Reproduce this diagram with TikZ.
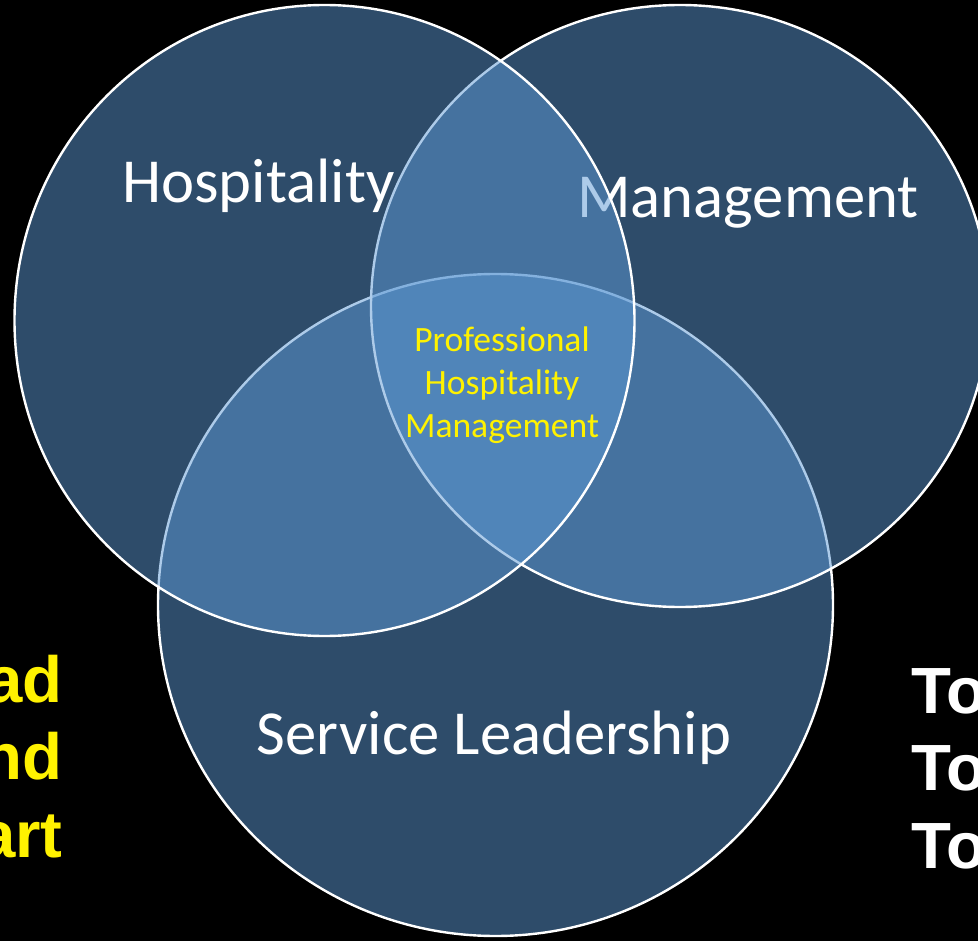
\documentclass[tikz,border=0pt]{standalone}
\usepackage{fontspec}
\setmainfont{Carlito}
\newfontfamily\sidefont{Liberation Sans}
\usetikzlibrary{shapes.geometric}

\definecolor{vennblue}{RGB}{92,152,212}

\begin{document}
\begin{tikzpicture}[
    x=0.75pt, y=-0.75pt,
    set/.style={ellipse, draw=white, line width=1.8pt, fill=vennblue, fill opacity=0.5, inner sep=0pt, outer sep=0pt}, % one set of the diagram
    setlabel/.style={text=white, font=\fontsize{47}{56}\selectfont, inner sep=0pt, anchor=base}, % name of a set
    corelabel/.style={text=yellow, font=\fontsize{26.7}{31.9}\selectfont, align=center, inner sep=0pt, anchor=base}, % text in the middle
    sidetext/.style={font=\sidefont\bfseries\fontsize{49}{58}\selectfont, inner sep=0pt} % words at the borders
]
\fill[black] (0,0) rectangle (978,941);
\useasboundingbox (0,0) rectangle (978,941);

% order matters: every set covers the outlines drawn before it
\node[set, minimum width=506.25pt, minimum height=496.5pt] (service) at (495.5,605) {};
\node[set, minimum width=463.5pt, minimum height=451.5pt] (management) at (680,306) {};
\node[setlabel] (managementlabel) at (748,218) {Management};
\node[setlabel] (servicelabel) at (494,754) {Service Leadership};
\node[set, minimum width=465pt, minimum height=473.25pt] (hospitality) at (324.5,320.5) {};
\node[setlabel] (hospitalitylabel) at (258.5,203) {Hospitality};
% base of a multi-line node is the base of its last line
\node[corelabel] (core) at (502,437) {Professional\\Hospitality\\Management};

\node[sidetext, text=yellow, align=right, anchor=base east] (lefttext) at (63,857) {ad\\nd\\art};
\node[sidetext, text=white, align=left, anchor=base west] (righttext) at (911,868) {To\\To\\To};
\end{tikzpicture}
\end{document}
